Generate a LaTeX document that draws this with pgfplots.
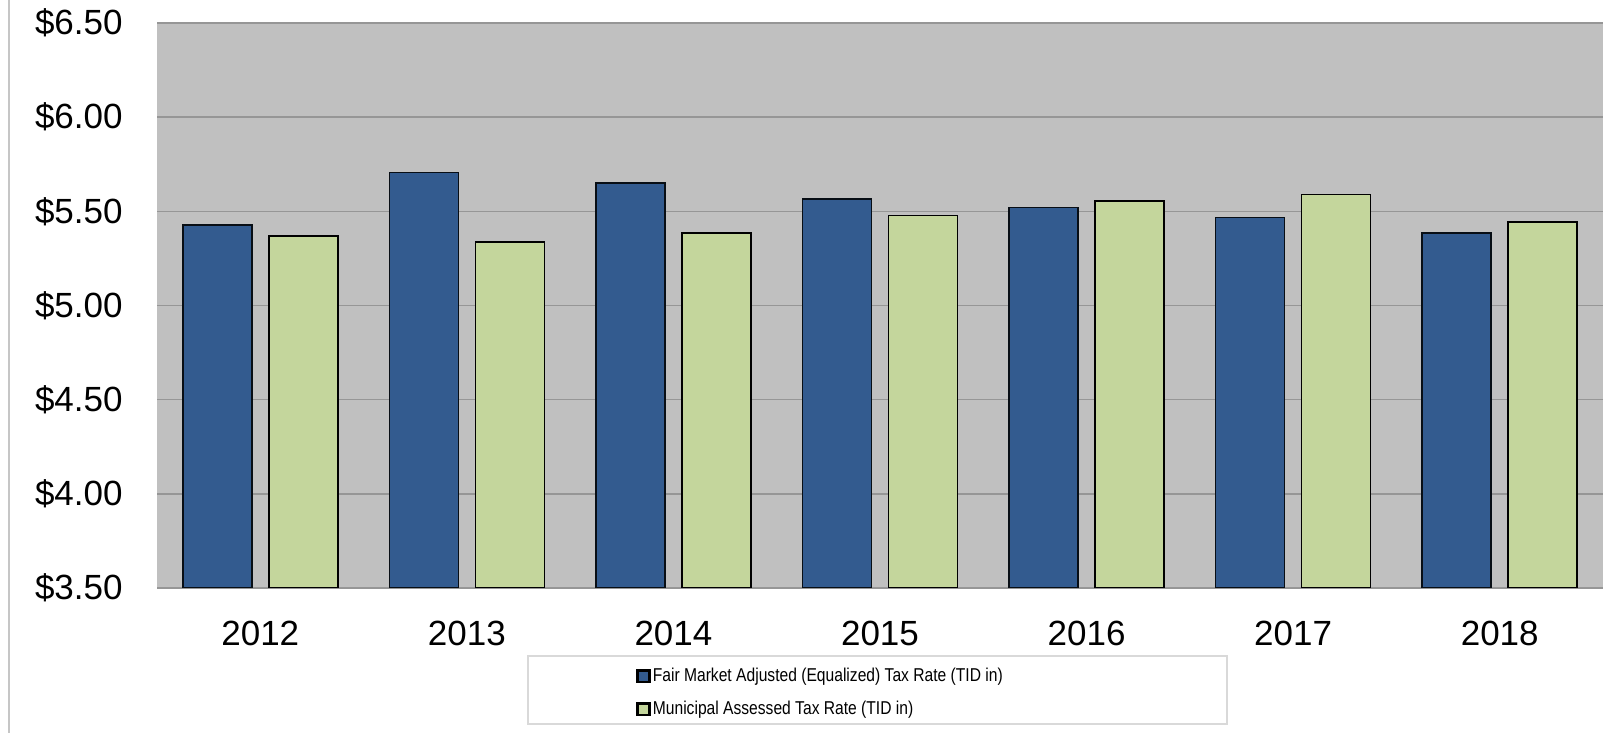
\documentclass[border=0pt]{standalone}
\usepackage{pgfplots}
\pgfplotsset{compat=1.18}
\usepackage{fontspec}
\setmainfont{Liberation Sans}
\newfontfamily\legfont[FakeStretch=0.84]{Liberation Sans}
\definecolor{bgray}{RGB}{192,192,192}
\definecolor{gridc}{RGB}{150,150,150}
\definecolor{barblue}{RGB}{51,91,143}
\definecolor{bargreen}{RGB}{196,214,156}
\pgfplotstableread{
x fair muni
0 5.427 5.370
1 5.707 5.337
2 5.649 5.386
3 5.564 5.478
4 5.521 5.555
5 5.468 5.590
6 5.386 5.442
}\rates
\begin{document}
\begin{tikzpicture}
\path[use as bounding box, fill=white] (0pt,0pt) rectangle (808.5pt,366.5pt);
\draw[gray!45, line width=0.8pt] (4.5pt,0pt) -- (4.5pt,366.5pt);
\draw[gray!30, line width=0.8pt] (264pt,4.5pt) rectangle (613.5pt,38.5pt);
\begin{axis}[
  at={(78.5pt,72.5pt)}, anchor=south west,
  scale only axis, width=723pt, height=282.5pt,
  xmin=-0.5, xmax=6.5, ymin=3.5, ymax=6.5,
  axis background/.style={fill=bgray},
  axis line style={draw=none},
  xtick={0,...,6},
  xticklabels={2012,2013,2014,2015,2016,2017,2018},
  ytick={3.5,4,4.5,5,5.5,6,6.5},
  yticklabel={\$\pgfmathprintnumber[fixed,fixed zerofill,precision=2]{\tick}},
  /pgf/number format/assume math mode=true,
  major tick length=0pt,
  ymajorgrids,
  major grid style={draw=gridc, line width=0.8pt},
  extra y ticks={3.5},
  extra y tick labels={},
  extra y tick style={grid style={draw=black, line width=1pt}},
  ticklabel style={font=\fontsize{17.5}{20}\selectfont, inner sep=0pt},
  yticklabel style={xshift=-17pt},
  xticklabel style={yshift=-16.25pt},
  ybar, bar width=0.334,
  legend cell align=left,
  legend style={at={(0.3313,-0.14)}, anchor=north west, draw=none, fill=none,
    font=\legfont\fontsize{9.3}{11}\selectfont,
    nodes={inner xsep=1pt, inner ysep=0pt, text height=6.8pt, text depth=2pt},
    row sep=7.7pt, inner sep=0pt},
  legend image code/.code={\draw[#1, draw=black, line width=1.3pt] (0.3pt,-2.9pt) rectangle (6.2pt,2.9pt);},
]
\addplot[bar shift=-0.208, fill=barblue, draw=black!85!barblue, line width=0.8pt]
  table[x=x, y=fair] {\rates};
\addlegendentry{Fair Market Adjusted (Equalized) Tax Rate (TID in)}
\addplot[bar shift=0.208, fill=bargreen, draw=black, line width=0.8pt]
  table[x=x, y=muni] {\rates};
\addlegendentry{Municipal Assessed Tax Rate (TID in)}
\end{axis}
\end{tikzpicture}
\end{document}
